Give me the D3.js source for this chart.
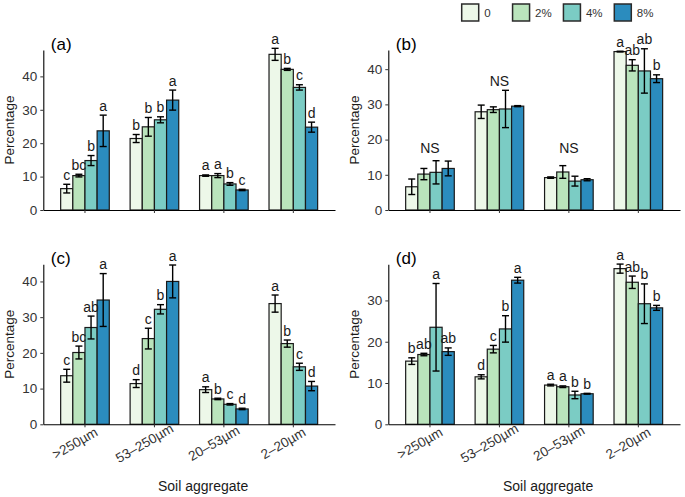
<!DOCTYPE html>
<html>
<head>
<meta charset="utf-8">
<script src="https://cdn.jsdelivr.net/npm/d3@7"></script>
<style>
  html, body { margin: 0; padding: 0; background: #fff; }
  svg { display: block; }
  text { font-family: "Liberation Sans", Arial, Helvetica, sans-serif; }
</style>
</head>
<body>
<svg id="chart" width="685" height="497"></svg>
<script>
// ---------------- DATA ----------------
const categories = [">250µm", "53–250µm", "20–53µm", "2–20µm"];
const treatments = ["0", "2%", "4%", "8%"];
const colors = ["#edf8e9", "#bae4bc", "#7bccc4", "#2b8cbe"];

// Panel (a)
const meanA = [[6.4, 10.3, 14.8, 23.7], [21.4, 24.9, 27.0, 32.9], [10.3, 10.3, 7.8, 6.0], [46.6, 42.1, 36.7, 24.8]];
const seA   = [[1.3, 0.4, 1.5, 4.7], [1.2, 2.8, 0.9, 3.0], [0.2, 0.6, 0.4, 0.2], [1.8, 0.3, 0.8, 1.5]];
const lettersA = [["c", "bc", "b", "a"], ["b", "b", "b", "a"], ["a", "a", "b", "c"], ["a", "b", "c", "d"]];
const nsA = [null, null, null, null];

// Panel (b)
const meanB = [[6.6, 10.2, 10.7, 11.8], [27.9, 28.5, 28.7, 29.5], [9.2, 10.8, 8.2, 8.6], [45.0, 41.1, 39.5, 37.3]];
const seB   = [[2.2, 1.6, 3.3, 2.1], [1.9, 0.8, 5.3, 0.15], [0.2, 1.8, 1.4, 0.3], [0.1, 1.6, 6.3, 1.1]];
const lettersB = [["", "", "", ""], ["", "", "", ""], ["", "", "", ""], ["a", "ab", "ab", "b"]];
const nsB = [16.3, 35.2, 16.3, null];

// Panel (c)
const meanC = [[13.6, 20.1, 27.1, 34.8], [11.4, 24.0, 32.2, 40.0], [9.7, 7.1, 5.6, 4.3], [33.8, 22.6, 16.1, 10.7]];
const seC   = [[1.8, 1.8, 3.2, 7.4], [1.1, 2.9, 1.3, 4.6], [0.8, 0.2, 0.2, 0.2], [2.4, 1.0, 1.0, 1.3]];
const lettersC = [["c", "bc", "ab", "a"], ["d", "c", "b", "a"], ["a", "b", "c", "d"], ["a", "b", "c", "d"]];
const nsC = [null, null, null, null];

// Panel (d)
const meanD = [[15.3, 16.9, 23.5, 17.6], [11.5, 18.2, 23.1, 34.9], [9.5, 9.1, 7.1, 7.4], [37.7, 34.4, 29.2, 28.2]];
const seD   = [[0.8, 0.3, 10.6, 0.9], [0.5, 0.9, 3.2, 0.7], [0.2, 0.2, 0.9, 0.1], [1.1, 1.5, 4.8, 0.6]];
const lettersD = [["b", "ab", "a", "ab"], ["d", "c", "b", "a"], ["a", "a", "b", "b"], ["a", "ab", "b", "b"]];
const nsD = [null, null, null, null];

const yTicksA = [0, 10, 20, 30, 40];
const yTicksB = [0, 10, 20, 30, 40];
const yTicksC = [0, 10, 20, 30, 40];
const yTicksD = [0, 10, 20, 30];

const panelLabels = ["(a)", "(b)", "(c)", "(d)"];
const xTitle = "Soil aggregate";
const yTitle = "Percentage";

// ---------------- LAYOUT ----------------
const panels = [
  { label: panelLabels[0], mean: meanA, se: seA, letters: lettersA, ns: nsA, ticks: yTicksA,
    x0: 43.3, x1: 335, yt: 50, yb: 210, yMax: 47.9, bottom: false },
  { label: panelLabels[1], mean: meanB, se: seB, letters: lettersB, ns: nsB, ticks: yTicksB,
    x0: 388.3, x1: 680, yt: 50, yb: 210, yMax: 45.45, bottom: false },
  { label: panelLabels[2], mean: meanC, se: seC, letters: lettersC, ns: nsC, ticks: yTicksC,
    x0: 43.3, x1: 335, yt: 264.3, yb: 424.3, yMax: 44.8, bottom: true },
  { label: panelLabels[3], mean: meanD, se: seD, letters: lettersD, ns: nsD, ticks: yTicksD,
    x0: 388.3, x1: 680, yt: 264.3, yb: 424.3, yMax: 38.75, bottom: true }
];

const svg = d3.select("#chart");
svg.append("rect").attr("width", 685).attr("height", 497).attr("fill", "#fff");

function drawPanel(p) {
  const g = svg.append("g");
  const x = d3.scaleBand().domain(categories).range([p.x0, p.x1]).paddingInner(0.3).paddingOuter(0.25);
  const xs = d3.scaleBand().domain(treatments).range([0, x.bandwidth()]);
  const y = d3.scaleLinear().domain([0, p.yMax]).range([p.yb, p.yt]);

  const rows = [];
  categories.forEach((c, ci) => {
    treatments.forEach((t, ti) => {
      rows.push({ c, t, ti, m: p.mean[ci][ti], s: p.se[ci][ti], l: p.letters[ci][ti] });
    });
  });

  // bars
  g.selectAll("rect.bar").data(rows).join("rect")
    .attr("class", "bar")
    .attr("x", d => x(d.c) + xs(d.t))
    .attr("y", d => y(d.m))
    .attr("width", xs.bandwidth())
    .attr("height", d => y(0) - y(d.m))
    .attr("fill", d => colors[d.ti])
    .attr("stroke", "#1a1a1a")
    .attr("stroke-width", 1.2);

  // error bars
  const cx = d => x(d.c) + xs(d.t) + xs.bandwidth() / 2;
  const eb = g.selectAll("g.err").data(rows).join("g").attr("class", "err")
    .attr("stroke", "#000").attr("stroke-width", 1.4);
  eb.append("line").attr("x1", cx).attr("x2", cx)
    .attr("y1", d => y(d.m - d.s)).attr("y2", d => y(d.m + d.s));
  eb.append("line").attr("x1", d => cx(d) - 3.5).attr("x2", d => cx(d) + 3.5)
    .attr("y1", d => y(d.m + d.s)).attr("y2", d => y(d.m + d.s));
  eb.append("line").attr("x1", d => cx(d) - 3.5).attr("x2", d => cx(d) + 3.5)
    .attr("y1", d => y(d.m - d.s)).attr("y2", d => y(d.m - d.s));

  // letters
  g.selectAll("text.let").data(rows.filter(d => d.l)).join("text")
    .attr("class", "let")
    .attr("x", cx)
    .attr("y", d => y(d.m + d.s) - 4.5)
    .attr("text-anchor", "middle")
    .attr("font-size", 14)
    .attr("fill", "#1a1a1a")
    .text(d => d.l);

  // NS labels
  g.selectAll("text.ns").data(categories.map((c, i) => ({ c, v: p.ns[i] })).filter(d => d.v != null))
    .join("text")
    .attr("class", "ns")
    .attr("x", d => x(d.c) + x.bandwidth() / 2)
    .attr("y", d => y(d.v))
    .attr("text-anchor", "middle")
    .attr("font-size", 14)
    .attr("fill", "#1a1a1a")
    .text("NS");

  // y axis
  const ya = g.append("g").attr("transform", `translate(${p.x0},0)`)
    .call(d3.axisLeft(y).tickValues(p.ticks).tickSize(3).tickSizeOuter(0).tickPadding(3));
  ya.select(".domain").attr("stroke", "#000").attr("stroke-width", 1.1);
  ya.selectAll(".tick line").attr("stroke", "#333");
  ya.selectAll(".tick text").attr("font-size", 13.5).attr("fill", "#333")
    .attr("font-family", '"Liberation Sans", Arial, sans-serif');

  // x axis
  const xa = g.append("g").attr("transform", `translate(0,${p.yb})`)
    .call(d3.axisBottom(x).tickSize(3).tickSizeOuter(0));
  xa.select(".domain").attr("stroke", "#000").attr("stroke-width", 1.1);
  xa.selectAll(".tick line").attr("stroke", "#333");
  xa.selectAll(".tick text").remove();
  if (p.bottom) {
    xa.selectAll(".tick").append("text")
      .attr("transform", "translate(-10,19) rotate(-30)")
      .attr("text-anchor", "middle")
      .attr("dominant-baseline", "central")
      .attr("font-size", 13.5)
      .attr("fill", "#333")
      .attr("font-family", '"Liberation Sans", Arial, sans-serif')
      .text(d => d);
    g.append("text")
      .attr("x", (p.x0 + p.x1) / 2 + 14)
      .attr("y", 486)
      .attr("text-anchor", "middle")
      .attr("dominant-baseline", "central")
      .attr("font-size", 14)
      .attr("fill", "#1a1a1a")
      .text(xTitle);
  }

  // y title
  g.append("text")
    .attr("transform", `translate(${p.x0 - 29},${(p.yt + p.yb) / 2}) rotate(-90)`)
    .attr("text-anchor", "middle")
    .attr("font-size", 13.5)
    .attr("fill", "#1a1a1a")
    .text(yTitle);

  // panel label
  g.append("text")
    .attr("x", p.x0 + 7.5)
    .attr("y", p.yt - 0.5)
    .attr("font-size", 17)
    .attr("fill", "#000")
    .text(p.label);
}

panels.forEach(drawPanel);

// legend
const lg = svg.append("g");
const lx = d3.scalePoint().domain(treatments).range([461.7, 614.3]);
const items = lg.selectAll("g").data(treatments).join("g")
  .attr("transform", d => `translate(${lx(d)},4)`);
items.append("rect").attr("width", 17).attr("height", 17)
  .attr("fill", (d, i) => colors[i]).attr("stroke", "#2a2a2a").attr("stroke-width", 1.5);
items.append("text").attr("x", 22.5).attr("y", 8.7)
  .attr("dominant-baseline", "central").attr("font-size", 11.5).attr("fill", "#333")
  .text(d => d);
</script>
</body>
</html>
